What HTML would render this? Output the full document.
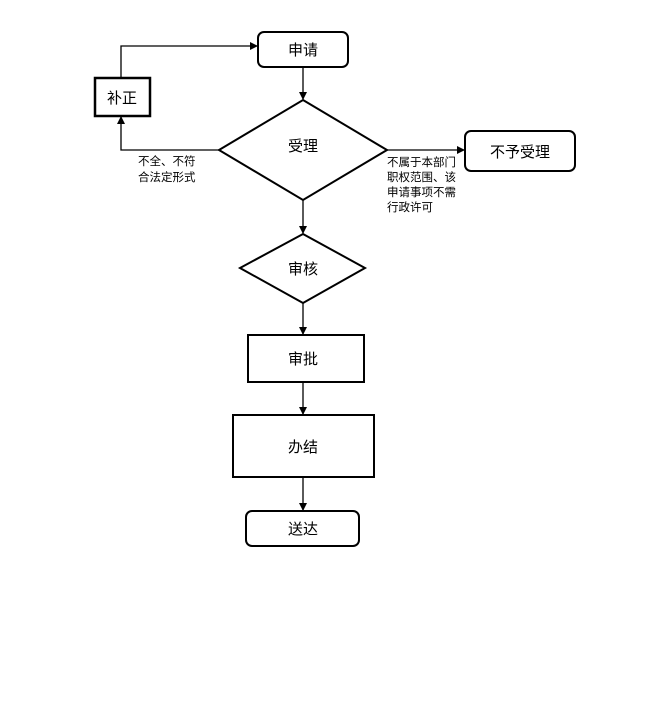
<!DOCTYPE html>
<html><head><meta charset="utf-8"><style>
body{margin:0;background:#fff;}
svg{display:block;font-family:"Liberation Sans","Noto Sans CJK SC",sans-serif;}
</style></head><body>
<svg width="671" height="720" viewBox="0 0 671 720" xmlns="http://www.w3.org/2000/svg">
<defs><marker id="a" markerWidth="8" markerHeight="8" refX="7" refY="4" orient="auto" markerUnits="userSpaceOnUse"><path d="M0,0 L8,4 L0,8 z" fill="#000"/></marker></defs>
<g stroke="#000" stroke-width="1.3" fill="none">
<rect x="258" y="32" width="90" height="35" rx="6" stroke-width="2"/>
<rect x="95" y="78" width="55" height="38" stroke-width="2.5"/>
<polygon points="303,100 387,150 303,200 219,150" stroke-width="2"/>
<rect x="465" y="131" width="110" height="40" rx="6" stroke-width="2"/>
<polygon points="303,234 365,268 303,303 240,268" stroke-width="2"/>
<rect x="248" y="335" width="116" height="47" stroke-width="2"/>
<rect x="233" y="415" width="141" height="62" stroke-width="2"/>
<rect x="246" y="511" width="113" height="35" rx="6" stroke-width="2"/>
<line x1="303" y1="67" x2="303" y2="99" marker-end="url(#a)"/>
<polyline points="219,150 121,150 121,117" marker-end="url(#a)"/>
<polyline points="121,78 121,46 257,46" marker-end="url(#a)"/>
<line x1="387" y1="150" x2="464" y2="150" marker-end="url(#a)"/>
<line x1="303" y1="200" x2="303" y2="233" marker-end="url(#a)"/>
<line x1="303" y1="303" x2="303" y2="334" marker-end="url(#a)"/>
<line x1="303" y1="382" x2="303" y2="414" marker-end="url(#a)"/>
<line x1="303" y1="477" x2="303" y2="510" marker-end="url(#a)"/>
</g>
<g font-size="15" text-anchor="middle" fill="#000">
<text x="303" y="55">申请</text>
<text x="122" y="103">补正</text>
<text x="303" y="151">受理</text>
<text x="520" y="157">不予受理</text>
<text x="303" y="274">审核</text>
<text x="303" y="364">审批</text>
<text x="303" y="452">办结</text>
<text x="303" y="534">送达</text>
</g>
<g font-size="11.5" fill="#000">
<text x="138" y="165">不全、不符</text>
<text x="138" y="181">合法定形式</text>
<text x="387" y="166">不属于本部门</text>
<text x="387" y="181">职权范围、该</text>
<text x="387" y="196">申请事项不需</text>
<text x="387" y="211">行政许可</text>
</g>
</svg>
</body></html>
